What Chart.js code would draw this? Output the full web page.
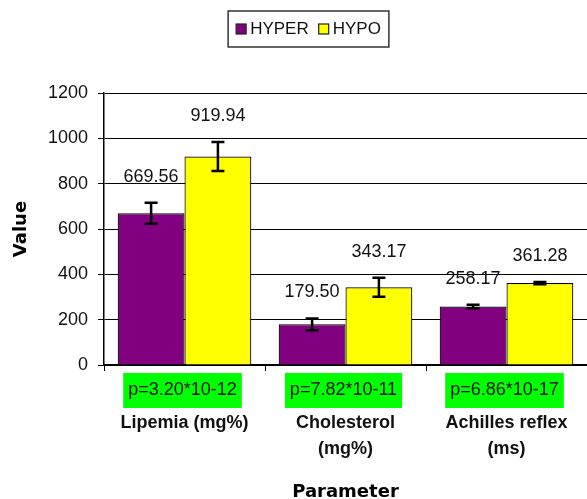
<!DOCTYPE html>
<html lang="en">
<head>
    <meta charset="UTF-8">
    <title>HYPER vs HYPO</title>
    <script src="https://cdn.jsdelivr.net/npm/chart.js"></script>
    <style>
        html, body { margin: 0; padding: 0; background: #fff; overflow: hidden; }
    </style>
</head>
<body>
    <canvas id="param-chart" width="587" height="499"></canvas>

    <script>
        // Data
        const categories = ['Lipemia (mg%)', ['Cholesterol', '(mg%)'], ['Achilles reflex', '(ms)']];
        const seriesNames = ['HYPER', 'HYPO'];
        const hyperValues = [669.56, 179.50, 258.17];
        const hypoValues = [919.94, 343.17, 361.28];
        const hyperErrors = [46, 26, 8];
        const hypoErrors = [64, 42, 5];
        const pValues = ['p=3.20*10-12', 'p=7.82*10-11', 'p=6.86*10-17'];
        const yTicks = [0, 200, 400, 600, 800, 1000, 1200];

        const seriesColors = ['#800080', '#FFFF00'];
        const seriesErrors = [hyperErrors, hypoErrors];
        const FONT = 'Arial, "Liberation Sans", sans-serif';

        // error bars + value labels above every bar
        const errorBarsPlugin = {
            id: 'errorBars',
            afterDatasetsDraw(chart) {
                const ctx = chart.ctx;
                const yScale = chart.scales.y;
                ctx.save();
                chart.data.datasets.forEach((ds, di) => {
                    const meta = chart.getDatasetMeta(di);
                    meta.data.forEach((bar, i) => {
                        const v = ds.data[i];
                        const e = seriesErrors[di][i];
                        const top = yScale.getPixelForValue(v + e);
                        const bot = yScale.getPixelForValue(v - e);
                        ctx.strokeStyle = '#000';
                        ctx.lineWidth = 2.5;
                        ctx.beginPath();
                        ctx.moveTo(bar.x, top);
                        ctx.lineTo(bar.x, bot);
                        ctx.moveTo(bar.x - 6.5, top);
                        ctx.lineTo(bar.x + 6.5, top);
                        ctx.moveTo(bar.x - 6.5, bot);
                        ctx.lineTo(bar.x + 6.5, bot);
                        ctx.stroke();

                        ctx.fillStyle = '#111';
                        ctx.font = '18px ' + FONT;
                        ctx.textAlign = 'center';
                        ctx.textBaseline = 'middle';
                        ctx.fillText(v.toFixed(2), bar.x, top - 26);
                    });
                });
                ctx.restore();
            }
        };

        // green p-value boxes under each category + boxed legend
        const extrasPlugin = {
            id: 'extras',
            afterDraw(chart) {
                const ctx = chart.ctx;
                const xScale = chart.scales.x;
                ctx.save();
                ctx.font = '18px ' + FONT;
                ctx.textAlign = 'center';
                ctx.textBaseline = 'middle';
                pValues.forEach((txt, i) => {
                    const cx = xScale.getPixelForValue(i) - 2;
                    const w = ctx.measureText(txt).width + 10;
                    const y0 = xScale.top + 8;
                    ctx.fillStyle = '#00FF00';
                    ctx.fillRect(cx - w / 2, y0, w, 35);
                    ctx.fillStyle = '#111';
                    ctx.fillText(txt, cx, y0 + 17.5);
                });

                // legend
                ctx.font = '17px ' + FONT;
                ctx.textAlign = 'left';
                const box = 10, gap = 4, itemGap = 10, pad = 8;
                let total = 0;
                seriesNames.forEach((n, i) => {
                    total += box + gap + ctx.measureText(n).width + (i ? 0 : itemGap);
                });
                const lw = total + pad * 2, lh = 36;
                const lx = 308.5 - lw / 2, ly = 11;
                ctx.fillStyle = '#fff';
                ctx.fillRect(lx, ly, lw, lh);
                ctx.strokeStyle = '#333';
                ctx.lineWidth = 1.5;
                ctx.strokeRect(lx, ly, lw, lh);
                let x = lx + pad;
                const cy = ly + lh / 2;
                seriesNames.forEach((n, i) => {
                    ctx.fillStyle = seriesColors[i];
                    ctx.fillRect(x, cy - box / 2, box, box);
                    ctx.strokeStyle = '#222';
                    ctx.lineWidth = 1.2;
                    ctx.strokeRect(x, cy - box / 2, box, box);
                    x += box + gap;
                    ctx.fillStyle = '#111';
                    ctx.fillText(n, x, cy);
                    x += ctx.measureText(n).width + itemGap;
                });
                ctx.restore();
            }
        };

        const ctx = document.getElementById('param-chart').getContext('2d');
        new Chart(ctx, {
            type: 'bar',
            data: {
                labels: categories,
                datasets: [
                    { label: seriesNames[0], data: hyperValues, backgroundColor: seriesColors[0] },
                    { label: seriesNames[1], data: hypoValues, backgroundColor: seriesColors[1] }
                ]
            },
            options: {
                responsive: false,
                animation: false,
                layout: { padding: { top: 93, left: 0, right: 0, bottom: 0 } },
                datasets: {
                    bar: {
                        borderColor: '#000',
                        borderWidth: 1.2,
                        barPercentage: 1,
                        categoryPercentage: 0.83
                    }
                },
                plugins: {
                    legend: { display: false },
                    tooltip: { enabled: false }
                },
                scales: {
                    x: {
                        grid: { drawOnChartArea: false, drawTicks: true, tickLength: 6, offset: true, color: '#000' },
                        border: { color: '#000', width: 1.5 },
                        ticks: {
                            color: '#111',
                            padding: 39,
                            maxRotation: 0,
                            autoSkip: false,
                            font: { family: FONT, size: 18, weight: 'bold', lineHeight: 1.45 }
                        },
                        title: {
                            display: true,
                            text: 'Parameter',
                            color: '#000',
                            font: { family: '"DejaVu Sans", sans-serif', size: 18, weight: 'bold', lineHeight: 1 },
                            padding: { top: 0, bottom: -2 }
                        },
                        afterFit(scale) {
                            scale.height = 134;
                            scale.paddingLeft = 0;
                            scale.paddingRight = 0;
                        }
                    },
                    y: {
                        min: yTicks[0],
                        max: yTicks[yTicks.length - 1],
                        grid: { color: '#000', lineWidth: 1, tickLength: 6 },
                        border: { color: '#000', width: 1.5 },
                        ticks: {
                            stepSize: yTicks[1] - yTicks[0],
                            color: '#111',
                            padding: 10,
                            font: { family: FONT, size: 18 },
                            callback: value => String(value)
                        },
                        title: {
                            display: true,
                            text: 'Value',
                            color: '#000',
                            font: { family: '"DejaVu Sans", sans-serif', size: 18, weight: 'bold' },
                            padding: { top: 11, bottom: 0 }
                        },
                        afterFit(scale) {
                            scale.width = 104;
                        }
                    }
                }
            },
            plugins: [errorBarsPlugin, extrasPlugin]
        });
    </script>
</body>
</html>
